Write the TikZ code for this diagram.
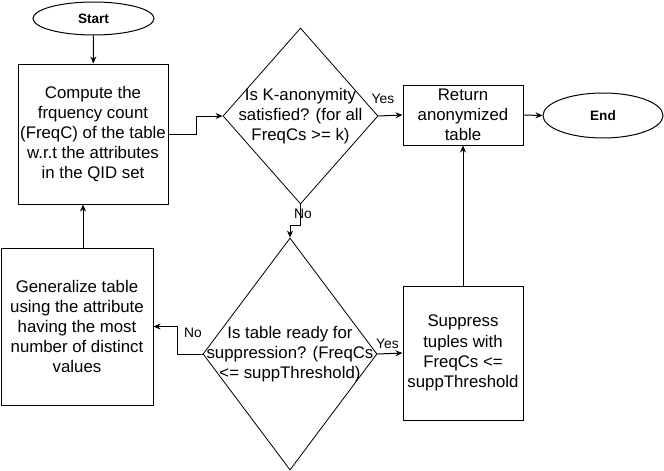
\documentclass[tikz,border=0pt]{standalone}
\usepackage{fontspec}
\setmainfont{Liberation Sans}
\usetikzlibrary{shapes.geometric,arrows.meta}
\newcommand\myfs{\fontsize{16.8}{20.2}\selectfont}
\newcommand\mylabfs{\fontsize{13.8}{16}\selectfont}
\newcommand\mytermfs{\fontsize{13.6}{16}\selectfont\bfseries}
\begin{document}
\begin{tikzpicture}[x=1pt,y=-1pt,
  box/.style={draw, line width=1pt, rectangle, inner sep=0pt, align=center, font=\myfs},
  term/.style={draw, line width=1pt, ellipse, inner sep=0pt, font=\mytermfs},
  dia/.style={draw, line width=0.8pt, diamond, inner sep=0pt},
  txt/.style={align=center, font=\myfs, inner sep=0pt},
  lab/.style={font=\mylabfs, inner sep=0pt},
  arr/.style={line width=1pt, -{Stealth[length=7pt,width=6pt]}}
]
\useasboundingbox (0,0) rectangle (664,471);
\node[term, minimum width=121, minimum height=33] (start) at (93.5,18.5) {Start};
\node[box, minimum width=150, minimum height=140] (comp) at (93,134) {Compute the\\frquency count\\(FreqC) of the table\\w.r.t the attributes\\in the QID set};
\node[dia, minimum width=155, minimum height=176, label={[txt]center:{Is K-anonymity\\satisfied? (for all\\FreqCs >= k)}}] (d1) at (300.5,116) {};
\node[box, minimum width=120, minimum height=60] (ret) at (463,115) {Return\\anonymized\\table};
\node[term, minimum width=120, minimum height=45] (end) at (603,115.5) {End};
\node[dia, minimum width=174, minimum height=232, label={[txt]center:{Is table ready for\\suppression? (FreqCs\\<= suppThreshold)}}] (d2) at (290,354) {};
\node[box, minimum width=120, minimum height=134] (sup) at (463,353) {Suppress\\tuples with\\FreqCs <=\\suppThreshold};
\node[box, minimum width=152, minimum height=157] (gen) at (77,326.5) {Generalize table\\using the attribute\\having the most\\number of distinct\\values};

\draw[arr] (start) -- (comp);
\draw[arr] (comp.east) -- ++(28,0) |- (d1.west);
\draw[arr] (d1.east) -- (ret.west);
\draw[arr] (ret.east) -- (end.west);
\draw[arr] (d1.south) -- ++(0,21) -| (d2.north);
\draw[arr] (d2.east) -- (sup.west);
\draw[arr] (sup.north) -- (ret.south);
\draw[arr] (d2.west) -- ++(-25,0) |- (gen.east);
\draw[arr] ([xshift=6pt]gen.north) -- ([xshift=-10pt]comp.south);

\node[lab] (yes1) at (383,99) {Yes};
\node[lab] (no1) at (303,214) {No};
\node[lab] (yes2) at (387.5,344) {Yes};
\node[lab] (no2) at (193,333) {No};
\end{tikzpicture}
\end{document}
